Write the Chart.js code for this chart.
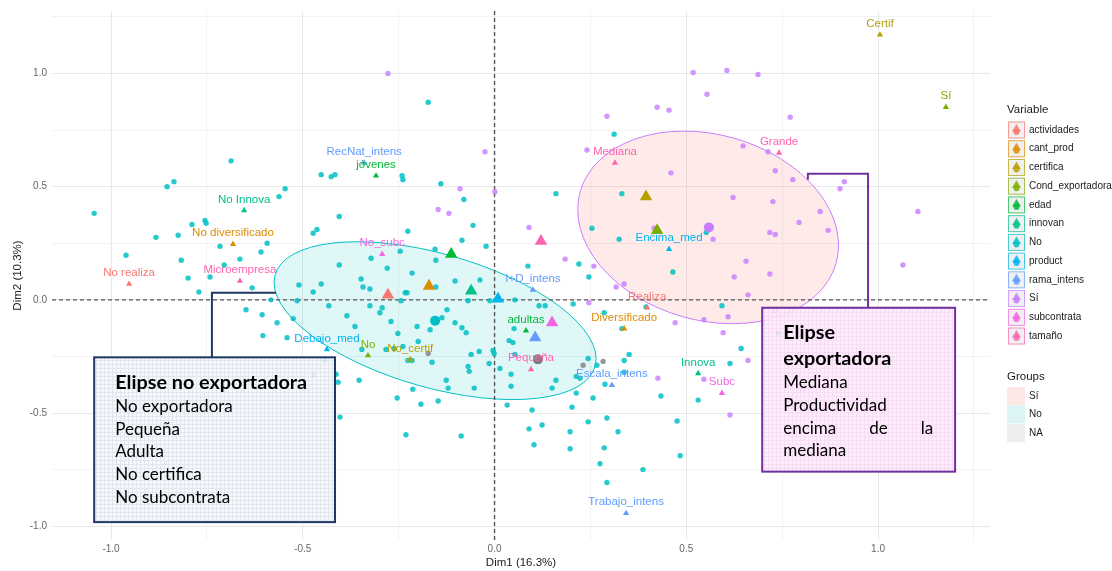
<!DOCTYPE html>
<html>
<head>
<meta charset="utf-8">
<script src="https://cdn.jsdelivr.net/npm/chart.js@4.4.1/dist/chart.umd.min.js"></script>
<style>
  html, body { margin: 0; padding: 0; background: #ffffff; }
  #wrap { width: 1112px; height: 571px; position: relative; }
</style>
</head>
<body>
<div id="wrap"><canvas id="chart" width="1112" height="571"></canvas></div>
<script>
// ---- Variables and colours (one hue per variable) ----
const variables = ['actividades', 'cant_prod', 'certifica', 'Cond_exportadora', 'edad', 'innovan',
  'No', 'product', 'rama_intens', 'Sí', 'subcontrata', 'tamaño'];
const variableColors = ['#F8766D', '#DE8C00', '#B79F00', '#7CAE00', '#00BA38', '#00C08B',
  '#00BFC4', '#00B4F0', '#619CFF', '#C77CFF', '#F564E3', '#FF64B0'];

// ---- Category coordinates (Dim1, Dim2) ----
const categoryLabels = ['No realiza', 'Realiza', 'No diversificado', 'Diversificado', 'Certif', 'No_certif',
  'Sí', 'No', 'jóvenes', 'adultas', 'No Innova', 'Innova', 'Encima_med', 'Debajo_med',
  'RecNat_intens', 'I+D_intens', 'Escala_intens', 'Trabajo_intens', 'No_subc', 'Subc',
  'Microempresa', 'Pequeña', 'Mediana', 'Grande'];
const categoryVariable = [0, 0, 1, 1, 2, 2, 3, 3, 4, 4, 5, 5, 7, 7, 8, 8, 8, 8, 10, 10, 11, 11, 11, 11];
const categoryCoords = [[-0.953, 0.070], [0.398, -0.035], [-0.682, 0.246], [0.338, -0.127], [1.005, 1.171],
  [-0.220, -0.263], [1.177, 0.851], [-0.330, -0.246], [-0.309, 0.548], [0.082, -0.136], [-0.653, 0.395],
  [0.531, -0.325], [0.455, 0.224], [-0.437, -0.219], [-0.340, 0.605], [0.100, 0.044], [0.306, -0.377],
  [0.343, -0.943], [-0.293, 0.202], [0.593, -0.412], [-0.664, 0.083], [0.095, -0.307], [0.314, 0.605],
  [0.742, 0.649]];

// ---- Variable centroids (large triangles) ----
const centroidVariable = [0, 1, 2, 3, 4, 5, 7, 8, 10, 11];
const centroidCoords = [[-0.278, 0.022], [-0.171, 0.061], [0.395, 0.456], [0.424, 0.307], [-0.113, 0.202],
  [-0.061, 0.039], [0.009, 0.004], [0.106, -0.167], [0.150, -0.101], [0.121, 0.259]];

// ---- Groups (exportadora) ----
const groupNames = ['Sí', 'No', 'NA'];
const groupPointColors = ['#C77CFF', '#00BFC4', '#7F7F7F'];
const groupFillColors = ['#FDE8E6', '#DDF4F5', '#EEEEEE'];
const groupCenters = [[0.559, 0.320], [-0.155, -0.092], [0.113, -0.263]];

// Concentration ellipses: centre plus two conjugate semi-axes, in data units
const ellipseCenters = [[0.557, 0.320], [-0.155, -0.092]];
const ellipseAxisU = [[0.340, -0.079], [0.420, -0.169]];
const ellipseAxisV = [[0.000, 0.418], [0.000, 0.305]];
const ellipseFill = ['rgba(248,118,109,0.15)', 'rgba(0,191,196,0.12)'];
const ellipseStroke = ['#C77CFF', '#00BFC4'];

// ---- Individuals ----
const individualsSi = [[-0.278, 1.000], [0.293, 0.811], [0.424, 0.851], [0.455, 0.838], [0.518, 1.004],
  [0.606, 1.013], [0.687, 0.996], [0.554, 0.908], [0.771, 0.807], [0.241, 0.662], [0.648, 0.680],
  [0.713, 0.654], [0.460, 0.561], [0.732, 0.570], [0.778, 0.531], [0.912, 0.522], [0.901, 0.491],
  [0.622, 0.452], [0.726, 0.434], [0.849, 0.390], [0.416, 0.316], [0.794, 0.342], [0.718, 0.298],
  [0.732, 0.289], [0.870, 0.307], [0.570, 0.268], [0.184, 0.180], [0.259, 0.149], [0.656, 0.171],
  [0.625, 0.101], [0.718, 0.114], [0.317, 0.057], [0.338, 0.070], [0.661, 0.022], [0.246, -0.013],
  [0.609, -0.075], [0.546, -0.088], [0.471, -0.101], [0.596, -0.145], [0.734, -0.048], [-0.025, 0.654],
  [-0.090, 0.491], [0.001, 0.478], [-0.147, 0.399], [-0.119, 0.382], [0.090, 0.320], [0.426, -0.346],
  [0.661, -0.268], [0.546, -0.351], [0.614, -0.509], [0.797, -0.241], [0.804, -0.395], [1.104, 0.390],
  [1.065, 0.154]];

const individualsNo = [[-0.687, 0.614], [-0.854, 0.500], [-0.836, 0.522], [-0.546, 0.491], [-0.562, 0.456],
  [-1.044, 0.382], [-0.789, 0.333], [-0.755, 0.351], [-0.752, 0.338], [-0.883, 0.276], [-0.825, 0.285],
  [-0.593, 0.250], [-0.716, 0.237], [-0.609, 0.211], [-0.664, 0.180], [-0.961, 0.197], [-0.817, 0.175],
  [-0.705, 0.154], [-0.799, 0.096], [-0.742, 0.101], [-0.632, 0.053], [-0.771, 0.035], [-0.510, 0.066],
  [-0.583, 0.000], [-0.515, -0.004], [-0.648, -0.044], [-0.606, -0.066], [-0.567, -0.101], [-0.604, -0.158],
  [-0.541, -0.167], [-0.525, -0.083], [-0.452, 0.553], [-0.426, 0.544], [-0.416, 0.553], [-0.241, 0.548],
  [-0.239, 0.531], [-0.140, 0.513], [-0.080, 0.443], [-0.405, 0.368], [-0.473, 0.294], [-0.463, 0.311],
  [-0.226, 0.303], [-0.056, 0.329], [0.160, 0.469], [0.312, 0.732], [0.332, 0.469], [0.254, 0.316],
  [0.325, 0.268], [-0.085, 0.263], [-0.022, 0.237], [-0.155, 0.224], [-0.246, 0.215], [-0.322, 0.184],
  [-0.153, 0.175], [0.220, 0.158], [-0.405, 0.154], [-0.280, 0.140], [0.087, 0.149], [-0.215, 0.118],
  [0.246, 0.101], [-0.348, 0.092], [-0.103, 0.083], [-0.038, 0.088], [-0.452, 0.070], [-0.343, 0.057],
  [-0.325, 0.048], [-0.153, 0.057], [-0.233, 0.031], [-0.473, 0.035], [-0.244, -0.004], [-0.012, -0.004],
  [-0.069, -0.004], [0.053, 0.000], [0.205, -0.018], [-0.432, -0.026], [-0.325, -0.026], [-0.299, -0.057],
  [-0.385, -0.070], [-0.124, -0.044], [-0.137, -0.079], [-0.270, -0.096], [-0.202, -0.118], [-0.364, -0.118],
  [-0.168, -0.132], [-0.103, -0.101], [-0.085, -0.123], [-0.074, -0.145], [0.116, -0.026], [0.132, -0.026],
  [-0.252, -0.149], [0.038, -0.180], [0.048, -0.189], [-0.004, -0.224], [-0.001, -0.237], [-0.040, -0.228],
  [-0.061, -0.241], [-0.199, -0.184], [-0.239, -0.206], [-0.262, -0.215], [-0.283, -0.219], [0.053, -0.241],
  [0.244, -0.259], [0.338, -0.268], [0.351, -0.241], [-0.163, -0.276], [-0.226, -0.268], [-0.215, -0.268],
  [-0.346, -0.219], [-0.442, -0.268], [-0.173, 0.873], [-0.228, 0.031], [-0.293, -0.035], [-0.069, -0.294],
  [-0.066, -0.316], [-0.014, -0.281], [0.014, -0.303], [0.043, -0.329], [0.043, -0.382], [0.033, -0.465],
  [0.051, -0.127], [-0.126, -0.355], [-0.121, -0.390], [-0.053, -0.390], [-0.213, -0.395], [-0.254, -0.434],
  [-0.192, -0.461], [-0.147, -0.447], [-0.473, -0.333], [-0.413, -0.329], [-0.408, -0.364], [-0.353, -0.355],
  [-0.403, -0.518], [-0.231, -0.596], [-0.087, -0.601], [0.098, -0.487], [0.090, -0.570], [0.124, -0.553],
  [0.103, -0.640], [0.150, -0.390], [0.160, -0.355], [0.213, -0.412], [0.202, -0.474], [0.197, -0.583],
  [0.197, -0.658], [0.244, -0.539], [0.267, -0.289], [0.213, -0.338], [0.223, -0.346], [0.338, -0.320],
  [0.288, -0.373], [0.257, -0.434], [0.434, -0.425], [0.293, -0.522], [0.322, -0.583], [0.286, -0.654],
  [0.275, -0.724], [0.387, -0.750], [0.293, -0.807], [0.476, -0.535], [0.484, -0.689], [0.614, -0.281],
  [0.643, -0.215], [0.531, -0.443], [0.552, 0.298], [0.465, 0.123], [0.286, -0.057], [0.332, -0.127],
  [0.395, -0.031], [0.593, -0.026], [0.739, -0.149]];

const individualsNA = [[-0.173, -0.237], [0.231, -0.289], [0.283, -0.272]];

// ---- Axes ----
const xRange = [-1.154, 1.292];
const yRange = [-1.061, 1.276];
const xTicks = [-1.0, -0.75, -0.5, -0.25, 0, 0.25, 0.5, 0.75, 1.0, 1.25];
const yTicks = [-1.0, -0.75, -0.5, -0.25, 0, 0.25, 0.5, 0.75, 1.0, 1.25];
const xTitle = 'Dim1 (16.3%)';
const yTitle = 'Dim2 (10.3%)';

// ---- Annotation boxes (corners and connector paths in data units) ----
const noteTitles = [['Elipse no exportadora'], ['Elipse', 'exportadora']];
const noteLines = [['No exportadora', 'Pequeña', 'Adulta', 'No certifica', 'No subcontrata'],
  ['Mediana', 'Productividad', 'encima de la', 'mediana']];
const noteJustify = [[false, false, false, false, false], [false, false, true, false]];
const noteCorners = [[-1.044, -0.254, -0.416, -0.982], [0.698, -0.035, 1.201, -0.759]];
const noteConnectors = [[[-0.737, -0.254], [-0.737, 0.031], [-0.570, 0.031]],
  [[0.817, 0.531], [0.817, 0.557], [0.974, 0.557], [0.974, -0.035]]];
const noteBorder = ['#1F3864', '#7030A0'];
const noteBase = ['#F7F8FB', '#FCEBFB'];
const noteGrid = ['rgba(170,185,210,0.30)', 'rgba(230,175,230,0.30)'];

const toPts = arr => arr.map(([x, y]) => ({ x, y }));
const SANS = '"Liberation Sans", Arial, sans-serif';
const NOTE_FONT = 'Lato, "Open Sans", sans-serif';

function makePattern(ctx, base, line) {
  const c = document.createElement('canvas');
  c.width = 4; c.height = 4;
  const g = c.getContext('2d');
  g.fillStyle = base; g.fillRect(0, 0, 4, 4);
  g.fillStyle = line; g.fillRect(0, 0, 4, 1); g.fillRect(0, 1, 1, 3);
  return ctx.createPattern(c, 'repeat');
}

const ellipsePlugin = {
  id: 'ellipses',
  beforeDatasetsDraw(chart) {
    const { ctx, chartArea, scales: { x, y } } = chart;
    ctx.save();
    ctx.beginPath();
    ctx.rect(chartArea.left, chartArea.top, chartArea.width, chartArea.height);
    ctx.clip();
    ellipseCenters.forEach(([cx, cy], i) => {
      const px = x.getPixelForValue(cx), py = y.getPixelForValue(cy);
      const Ux = x.getPixelForValue(cx + ellipseAxisU[i][0]) - px;
      const Uy = y.getPixelForValue(cy + ellipseAxisU[i][1]) - py;
      const Vx = x.getPixelForValue(cx + ellipseAxisV[i][0]) - px;
      const Vy = y.getPixelForValue(cy + ellipseAxisV[i][1]) - py;
      ctx.save();
      ctx.transform(Ux, Uy, Vx, Vy, px, py);
      ctx.beginPath();
      ctx.arc(0, 0, 1, 0, Math.PI * 2);
      ctx.restore();
      ctx.fillStyle = ellipseFill[i];
      ctx.fill();
      ctx.strokeStyle = ellipseStroke[i];
      ctx.lineWidth = 1;
      ctx.stroke();
    });
    ctx.restore();
  }
};

const labelPlugin = {
  id: 'categoryLabels',
  afterDatasetsDraw(chart) {
    const { ctx, scales: { x, y } } = chart;
    ctx.save();
    ctx.font = '11.5px ' + SANS;
    ctx.textAlign = 'center';
    ctx.textBaseline = 'middle';
    categoryLabels.forEach((lab, i) => {
      const px = x.getPixelForValue(categoryCoords[i][0]);
      const py = y.getPixelForValue(categoryCoords[i][1]);
      ctx.fillStyle = variableColors[categoryVariable[i]];
      ctx.fillText(lab, px, py - 11);
    });
    ctx.restore();
  }
};

const notesPlugin = {
  id: 'notes',
  afterDraw(chart) {
    const { ctx, scales: { x, y } } = chart;
    ctx.save();
    noteCorners.forEach((c, i) => {
      const l = x.getPixelForValue(c[0]), t = y.getPixelForValue(c[1]);
      const r = x.getPixelForValue(c[2]), b = y.getPixelForValue(c[3]);
      // connector
      ctx.beginPath();
      noteConnectors[i].forEach(([vx, vy], k) => {
        const px = x.getPixelForValue(vx), py = y.getPixelForValue(vy);
        if (k === 0) ctx.moveTo(px, py); else ctx.lineTo(px, py);
      });
      ctx.strokeStyle = noteBorder[i];
      ctx.lineWidth = 2;
      ctx.stroke();
      // box
      ctx.globalAlpha = 0.9;
      ctx.fillStyle = makePattern(ctx, noteBase[i], noteGrid[i]);
      ctx.fillRect(l, t, r - l, b - t);
      ctx.globalAlpha = 1;
      ctx.strokeRect(l, t, r - l, b - t);
      // text
      const tx = l + 21, tr = r - 22;
      let ty = t + 25;
      ctx.fillStyle = '#000';
      ctx.textBaseline = 'middle';
      ctx.textAlign = 'left';
      ctx.font = 'bold 19.8px ' + NOTE_FONT;
      noteTitles[i].forEach((s, k) => {
        ctx.fillText(s, tx, ty);
        if (k < noteTitles[i].length - 1) ty += 26;
      });
      ty += 24;
      ctx.font = '17px ' + NOTE_FONT;
      noteLines[i].forEach((s, k) => {
        if (noteJustify[i][k]) {
          const words = s.split(' ');
          const widths = words.map(w => ctx.measureText(w).width);
          const gap = (tr - tx - widths.reduce((a, v) => a + v, 0)) / (words.length - 1);
          let wx = tx;
          words.forEach((w, j) => { ctx.fillText(w, wx, ty); wx += widths[j] + gap; });
        } else {
          ctx.fillText(s, tx, ty);
        }
        ty += 22.7;
      });
    });
    ctx.restore();
  }
};

const legendPlugin = {
  id: 'sideLegend',
  afterDraw(chart) {
    const { ctx } = chart;
    ctx.save();
    ctx.textBaseline = 'middle';
    ctx.textAlign = 'left';
    ctx.fillStyle = '#1a1a1a';
    ctx.font = '11.5px ' + SANS;
    ctx.fillText('Variable', 1007, 110);
    variables.forEach((v, i) => {
      const cy = 130 + i * 18.73;
      const col = variableColors[i];
      ctx.fillStyle = '#F0F0F0';
      ctx.fillRect(1008, cy - 8.5, 17, 17);
      ctx.strokeStyle = col;
      ctx.globalAlpha = 0.7;
      ctx.lineWidth = 1;
      ctx.strokeRect(1008.5, cy - 8, 16, 16);
      ctx.globalAlpha = 0.85;
      ctx.fillStyle = col;
      ctx.beginPath();
      ctx.moveTo(1016.5, cy - 6);
      ctx.lineTo(1021, cy + 1.5);
      ctx.lineTo(1012, cy + 1.5);
      ctx.closePath();
      ctx.fill();
      ctx.beginPath();
      ctx.arc(1016.5, cy + 2, 3, 0, Math.PI * 2);
      ctx.fill();
      ctx.globalAlpha = 1;
      ctx.fillStyle = '#1a1a1a';
      ctx.font = '10px ' + SANS;
      ctx.fillText(v, 1029, cy);
    });
    ctx.font = '11.5px ' + SANS;
    ctx.fillText('Groups', 1007, 377);
    groupNames.forEach((g, i) => {
      const cy = 396 + i * 18.5;
      ctx.fillStyle = groupFillColors[i];
      ctx.fillRect(1007, cy - 9, 18, 18);
      ctx.fillStyle = '#1a1a1a';
      ctx.font = '10px ' + SANS;
      ctx.fillText(g, 1029, cy);
    });
    ctx.restore();
  }
};

const majorTick = v => Math.abs(v * 2 - Math.round(v * 2)) < 1e-9;

const scaleCommon = (ticks, range) => ({
  type: 'linear',
  min: range[0],
  max: range[1],
  afterBuildTicks: s => { s.ticks = ticks.filter(v => v >= range[0] && v <= range[1]).map(v => ({ value: v })); },
  border: { display: false },
  grid: {
    drawTicks: false,
    lineWidth: 1,
    color: c => (c.tick && majorTick(c.tick.value)) ? '#E8E8E8' : '#F3F3F3'
  },
  ticks: {
    autoSkip: false,
    maxRotation: 0,
    color: '#666666',
    font: { family: SANS, size: 10 },
    callback: v => majorTick(v) ? Number(v).toFixed(1) : ''
  }
});

const xScale = scaleCommon(xTicks, xRange);
xScale.ticks.padding = 3;
xScale.title = { display: true, text: xTitle, color: '#222', font: { family: SANS, size: 11.5 }, padding: { top: 0, bottom: 1 } };
xScale.afterFit = s => { s.height = 31; };

const yScale = scaleCommon(yTicks, yRange);
yScale.ticks.padding = 5;
yScale.title = { display: true, text: yTitle, color: '#222', font: { family: SANS, size: 11.5 }, padding: { top: 11, bottom: 0 } };
yScale.afterFit = s => { s.width = 52; };

new Chart(document.getElementById('chart'), {
  type: 'scatter',
  data: {
    datasets: [
      {
        label: 'categorías',
        data: toPts(categoryCoords),
        pointStyle: 'triangle',
        pointRadius: 3.6,
        borderWidth: 0,
        backgroundColor: categoryVariable.map(v => variableColors[v])
      },
      {
        label: 'centroides',
        data: toPts(centroidCoords),
        pointStyle: 'triangle',
        pointRadius: 7.2,
        borderWidth: 0,
        backgroundColor: centroidVariable.map(v => variableColors[v])
      },
      {
        label: 'medias',
        data: toPts(groupCenters),
        pointRadius: 5,
        borderWidth: 0,
        backgroundColor: groupPointColors
      },
      {
        label: 'Sí',
        data: toPts(individualsSi),
        pointRadius: 2.7,
        borderWidth: 0,
        backgroundColor: 'rgba(199,124,255,0.8)'
      },
      {
        label: 'NA',
        data: toPts(individualsNA),
        pointRadius: 2.7,
        borderWidth: 0,
        backgroundColor: 'rgba(127,127,127,0.8)'
      },
      {
        label: 'No',
        data: toPts(individualsNo),
        pointRadius: 2.7,
        borderWidth: 0,
        backgroundColor: 'rgba(0,191,196,0.85)'
      },
      {
        label: 'y0',
        data: [{ x: xRange[0], y: 0 }, { x: xRange[1], y: 0 }],
        showLine: true,
        pointRadius: 0,
        borderColor: '#555555',
        borderWidth: 1.4,
        borderDash: [4, 3]
      },
      {
        label: 'x0',
        data: [{ x: 0, y: yRange[0] }, { x: 0, y: yRange[1] }],
        showLine: true,
        pointRadius: 0,
        borderColor: '#555555',
        borderWidth: 1.4,
        borderDash: [4, 3]
      }
    ]
  },
  options: {
    responsive: false,
    animation: false,
    devicePixelRatio: 1,
    events: [],
    layout: { padding: { left: 0, top: 7, right: 122, bottom: 0 } },
    plugins: { legend: { display: false }, tooltip: { enabled: false } },
    scales: { x: xScale, y: yScale }
  },
  plugins: [ellipsePlugin, labelPlugin, notesPlugin, legendPlugin]
});
</script>
</body>
</html>
